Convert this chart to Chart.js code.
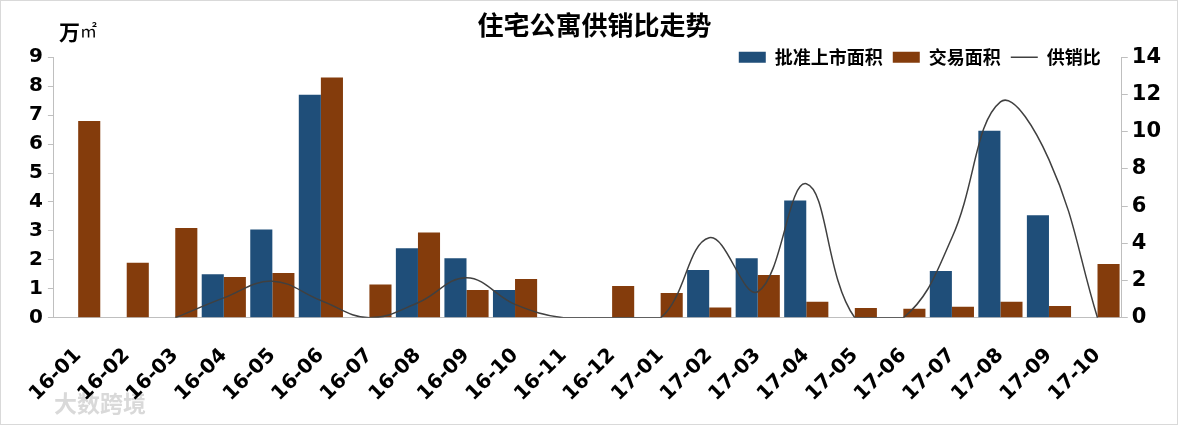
<!DOCTYPE html>
<html>
<head>
<meta charset="utf-8">
<script src="https://cdn.jsdelivr.net/npm/chart.js@4.4.0/dist/chart.umd.min.js"></script>
<style>
  html, body { margin: 0; padding: 0; background: #fff; }
  #wrap { width: 1178px; height: 425px; box-sizing: border-box; border: 1px solid #d9d9d9; position: relative; }
</style>
</head>
<body>
<div id="wrap"><canvas id="myChart"></canvas></div>
<script>
const months = ['16-01', '16-02', '16-03', '16-04', '16-05', '16-06', '16-07', '16-08', '16-09', '16-10', '16-11',
                '16-12', '17-01', '17-02', '17-03', '17-04', '17-05', '17-06', '17-07', '17-08', '17-09', '17-10'];
// 万㎡
const approved = [0, 0, 0, 1.5, 3.05, 7.7, 0, 2.4, 2.06, 0.96, 0, 0, 0, 1.65, 2.06, 4.05, 0, 0, 1.62, 6.46, 3.54, 0];
const traded = [6.8, 1.9, 3.1, 1.41, 1.55, 8.3, 1.15, 2.95, 0.96, 1.34, 0, 1.1, 0.86, 0.36, 1.48, 0.55, 0.34, 0.31, 0.38, 0.55, 0.41, 1.86];
// 供销比
const ratio = [null, null, 0, 1.07, 1.97, 0.93, 0, 0.81, 2.15, 0.72, 0, 0, 0, 4.3, 1.4, 7.2, 0, 0, 4.3, 11.6, 8.5, 0];
const leftTicks = [0, 9, 1];
const rightTicks = [0, 14, 2];

const numFont = '"DejaVu Sans", "Noto Sans CJK SC", sans-serif';
const cjkFont = '"Noto Sans CJK SC", sans-serif';

const extraText = {
    id: 'extraText',
    beforeDraw(chart) {
        const ctx = chart.ctx;
        ctx.save();
        ctx.font = 'bold 23px ' + cjkFont;
        ctx.fillStyle = '#d9d9d9';
        ctx.textBaseline = 'middle';
        ctx.fillText('大数跨境', 53, 402);
        ctx.restore();
    },
    afterLayout(chart) {
        // excel puts the legend across the top of the plot area
        const lg = chart.legend;
        lg.top = chart.chartArea.top - 19;
        lg.bottom = lg.top + lg.height;
        const dx = chart.chartArea.right - 11 - lg.right;
        lg.left += dx;
        lg.right += dx;
    },
    afterDraw(chart) {
        const ctx = chart.ctx;
        const x = chart.chartArea.left + 5;
        ctx.save();
        ctx.fillStyle = '#000';
        ctx.textBaseline = 'middle';
        ctx.font = 'bold 21px ' + cjkFont;
        ctx.fillText('万', x, 31);
        ctx.font = '17px ' + cjkFont;
        ctx.fillText('㎡', x + 21, 30);
        ctx.restore();
    }
};

let element = document.getElementById('myChart');
new Chart(element.getContext('2d'), {
    type: 'bar',
    data: {
        labels: months,
        datasets: [{
            label: '批准上市面积',
            backgroundColor: '#1F4E79',
            pointStyle: 'rect',
            data: approved,
            yAxisID: 'y',
            order: 1
        }, {
            label: '交易面积',
            backgroundColor: '#843C0C',
            pointStyle: 'rect',
            data: traded,
            yAxisID: 'y',
            order: 1
        }, {
            type: 'line',
            label: '供销比',
            borderColor: '#404040',
            backgroundColor: '#404040',
            borderWidth: 1.5,
            pointRadius: 0,
            pointStyle: 'line',
            tension: 0.4,
            data: ratio,
            yAxisID: 'y1',
            order: 0
        }]
    },
    options: {
        responsive: true,
        maintainAspectRatio: false,
        animation: false,
        datasets: {
            bar: { categoryPercentage: 0.91, barPercentage: 1.0 }
        },
        layout: { padding: { left: 23, right: 12, top: 0, bottom: 0 } },
        plugins: {
            title: {
                display: true,
                text: '住宅公寓供销比走势',
                color: '#000',
                font: { family: cjkFont, size: 26, weight: 'bold' },
                padding: { top: 9, bottom: -22 }
            },
            legend: {
                position: 'top',
                align: 'end',
                labels: {
                    usePointStyle: true,
                    pointStyleWidth: 27,
                    boxHeight: 11,
                    padding: 10,
                    color: '#000',
                    font: { family: cjkFont, size: 18, weight: 'bold' },
                    sort: (a, b) => a.datasetIndex - b.datasetIndex
                }
            },
            tooltip: { enabled: false }
        },
        scales: {
            x: {
                grid: { display: false },
                border: { color: '#bfbfbf' },
                ticks: {
                    autoSkip: false,
                    minRotation: 45,
                    maxRotation: 45,
                    padding: 18,
                    color: '#000',
                    font: { family: numFont, size: 20, weight: 'bold' }
                }
            },
            y: {
                position: 'left',
                min: leftTicks[0],
                max: leftTicks[1],
                grid: { drawOnChartArea: false, drawTicks: true, tickLength: 6, color: '#bfbfbf' },
                border: { color: '#bfbfbf' },
                ticks: {
                    stepSize: leftTicks[2],
                    padding: 5,
                    color: '#000',
                    font: { family: numFont, size: 20, weight: 'bold' }
                }
            },
            y1: {
                position: 'right',
                min: rightTicks[0],
                max: rightTicks[1],
                grid: { drawOnChartArea: false, drawTicks: true, tickLength: 6, color: '#bfbfbf' },
                border: { color: '#bfbfbf' },
                ticks: {
                    stepSize: rightTicks[2],
                    padding: 4,
                    color: '#000',
                    font: { family: numFont, size: 21, weight: 'bold' }
                }
            }
        }
    },
    plugins: [extraText]
});
</script>
</body>
</html>
